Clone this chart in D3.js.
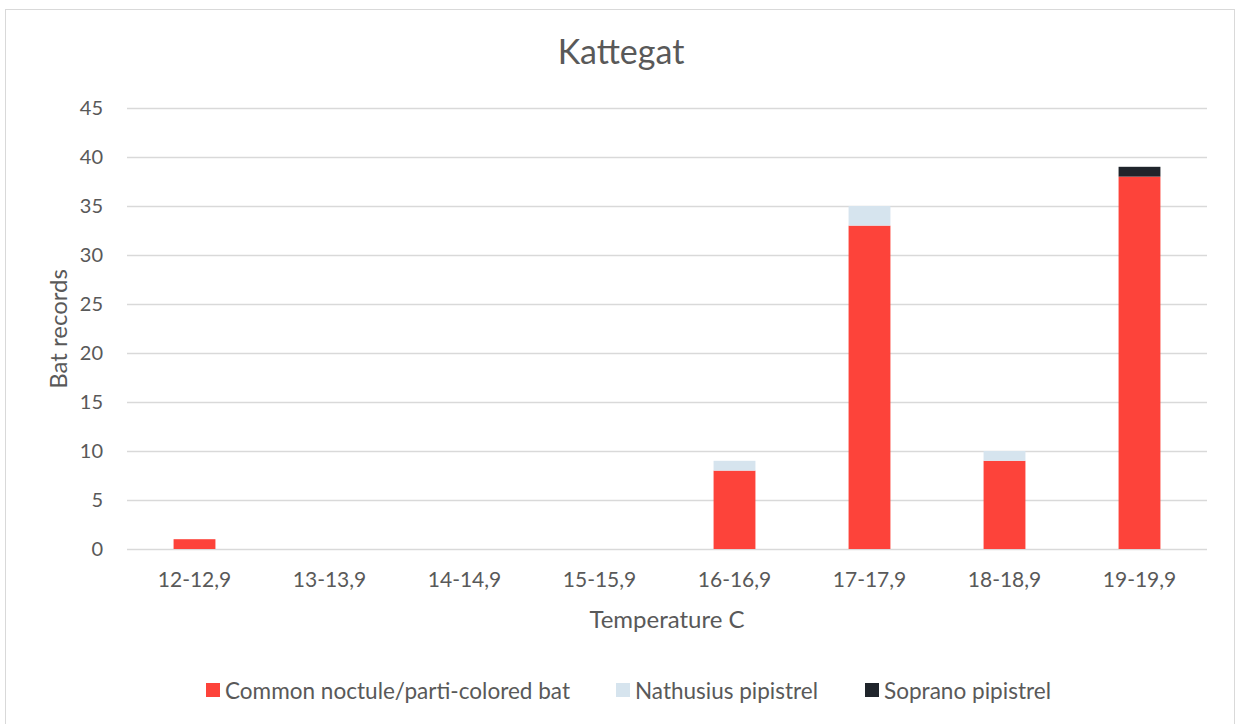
<!DOCTYPE html>
<html>
<head>
<meta charset="utf-8">
<script src="https://cdn.jsdelivr.net/npm/d3@7"></script>
<style>
  body { margin: 0; background: #fff; }
  text { font-family: Lato, "Open Sans", sans-serif; fill: #595959; }
</style>
</head>
<body>
<div id="chart"></div>
<script>
// data
var categories = ["12-12,9", "13-13,9", "14-14,9", "15-15,9", "16-16,9", "17-17,9", "18-18,9", "19-19,9"];
var seriesNames = ["Common noctule/parti-colored bat", "Nathusius pipistrel", "Soprano pipistrel"];
var commonNoctule = [1, 0, 0, 0, 8, 33, 9, 38];
var nathusius = [0, 0, 0, 0, 1, 2, 1, 0];
var soprano = [0, 0, 0, 0, 0, 0, 0, 1];
var yTicks = [0, 5, 10, 15, 20, 25, 30, 35, 40, 45];
var colours = ["#FD433A", "#D6E4EE", "#1F242B"];

var svgWidth = 1236, svgHeight = 724;
var margin = { left: 127, right: 29, top: 108, bottom: 175 };

var svg = d3.select("#chart").append("svg")
    .attr("width", svgWidth)
    .attr("height", svgHeight);

// chart border
svg.append("rect")
    .attr("x", 5.5).attr("y", 9.5)
    .attr("width", 1229).attr("height", 720)
    .attr("fill", "#fff")
    .attr("stroke", "#d9d9d9");

var x = d3.scaleBand()
    .domain(categories)
    .range([margin.left, svgWidth - margin.right])
    .paddingInner(0.69)
    .paddingOuter(0.345);

var y = d3.scaleLinear()
    .domain([0, 45])
    .range([svgHeight - margin.bottom, margin.top]);

// gridlines
svg.append("g").selectAll("line")
    .data(yTicks)
    .enter().append("line")
    .attr("x1", margin.left).attr("x2", svgWidth - margin.right)
    .attr("y1", function (d) { return Math.round(y(d)) + 0.5; })
    .attr("y2", function (d) { return Math.round(y(d)) + 0.5; })
    .attr("stroke", "#d9d9d9")
    .attr("stroke-width", 1.3);

// y tick labels
svg.append("g").selectAll("text")
    .data(yTicks)
    .enter().append("text")
    .attr("x", 103)
    .attr("y", function (d) { return y(d); })
    .attr("dy", "0.35em")
    .attr("text-anchor", "end")
    .style("font-size", "20px")
    .text(function (d) { return d; });

// stack layout
var rows = categories.map(function (c, i) {
    return { cat: c, s0: commonNoctule[i], s1: nathusius[i], s2: soprano[i] };
});
var stack = d3.stack().keys(["s0", "s1", "s2"])(rows);

svg.append("g").selectAll("g")
    .data(stack)
    .enter().append("g")
    .attr("fill", function (d, i) { return colours[i]; })
    .selectAll("rect")
    .data(function (d) { return d; })
    .enter().append("rect")
    .attr("x", function (d) { return x(d.data.cat); })
    .attr("width", x.bandwidth())
    .attr("y", function (d) { return y(d[1]); })
    .attr("height", function (d) { return y(d[0]) - y(d[1]); });

// x tick labels
svg.append("g").selectAll("text")
    .data(categories)
    .enter().append("text")
    .attr("x", function (d) { return x(d) + x.bandwidth() / 2; })
    .attr("y", 587)
    .attr("text-anchor", "middle")
    .style("font-size", "21px")
    .text(function (d) { return d; });

// title and axis titles
svg.append("text")
    .attr("x", 621).attr("y", 64)
    .attr("text-anchor", "middle")
    .style("font-size", "34px")
    .text("Kattegat");

svg.append("text")
    .attr("x", 667).attr("y", 628)
    .attr("text-anchor", "middle")
    .style("font-size", "24px")
    .text("Temperature C");

svg.append("text")
    .attr("transform", "translate(67," + 329 + ") rotate(-90)")
    .attr("text-anchor", "middle")
    .style("font-size", "24px")
    .text("Bat records");

// legend
var legendX = [206, 616, 865];
var legendLen = [345, 183, 167];
var legend = svg.append("g").selectAll("g")
    .data(seriesNames)
    .enter().append("g")
    .attr("transform", function (d, i) { return "translate(" + legendX[i] + ",683)"; });

legend.append("rect")
    .attr("width", 14).attr("height", 14)
    .attr("fill", function (d, i) { return colours[i]; });

legend.append("text")
    .attr("x", 19).attr("y", 8)
    .attr("dy", "0.35em")
    .attr("textLength", function (d, i) { return legendLen[i]; })
    .attr("lengthAdjust", "spacingAndGlyphs")
    .style("font-size", "24px")
    .text(function (d) { return d; });
</script>
</body>
</html>
